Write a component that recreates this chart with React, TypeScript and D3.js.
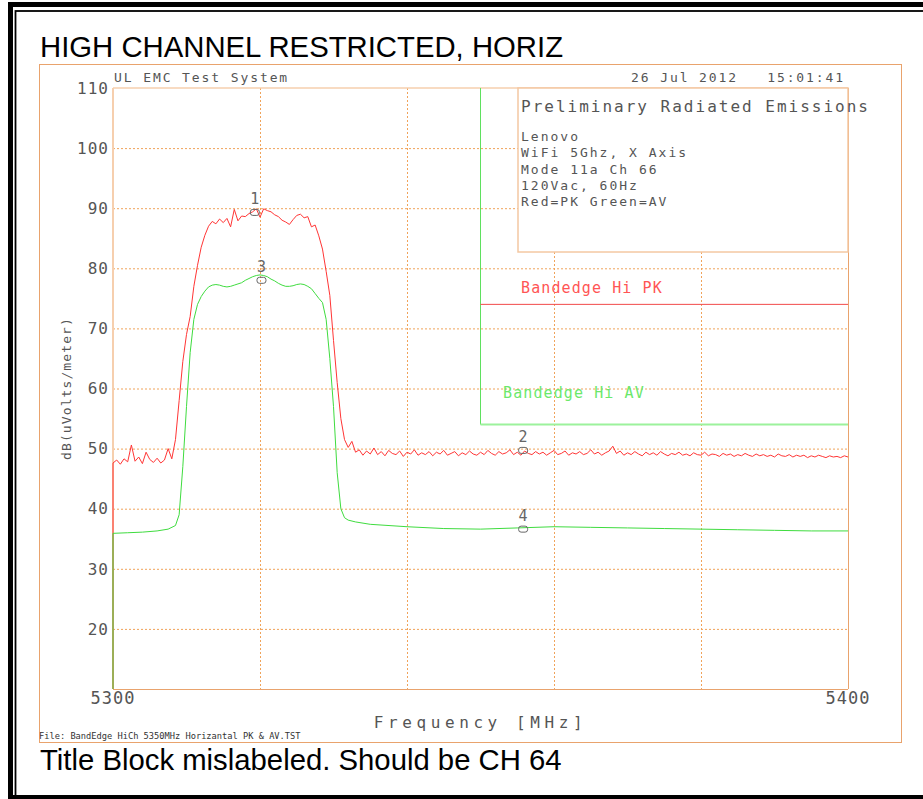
import * as d3 from "d3";

// Sweep settings (MHz)
const F_START = 5300;
const F_STOP = 5400;
const PK_STEP = 0.5;

// Red = peak detector, one reading every 0.5 MHz from 5300 MHz
const pkLevels = [
  47.6, 48.1, 47.4, 48.3, 47.8, 50.6, 47.9, 48.6, 47.5, 49.4,
  48.2, 47.7, 48.4, 47.6, 48.1, 50.0, 48.3, 51.5, 58.0, 64.5,
  69.0, 72.0, 77.0, 80.5, 83.5, 85.5, 87.0, 87.8, 87.4, 88.2,
  87.6, 88.3, 86.9, 89.8, 87.9, 88.7, 88.6, 89.1, 89.4, 89.9,
  88.5, 89.9, 89.6, 89.4, 88.9, 88.6, 88.0, 87.7, 87.3, 88.1,
  88.8, 89.0, 88.4, 88.6, 86.9, 87.2, 85.4, 83.2, 79.5, 75.5,
  68.0, 61.0, 55.0, 51.5, 50.2, 51.2, 49.4, 49.8, 48.9, 49.6,
  49.1, 50.1, 49.0, 49.5, 48.8, 49.7, 49.2, 49.0, 49.6, 48.7,
  49.4, 49.1, 49.8, 48.9, 49.3, 49.0, 49.5, 48.8, 49.4, 49.1,
  49.7, 48.9, 49.2, 49.5, 48.8, 49.3, 49.0, 49.6, 49.1, 48.9,
  49.4, 49.0, 49.7, 49.2, 48.9, 49.5, 49.1, 49.3, 49.8, 49.0,
  49.4, 48.9, 49.6, 49.2, 49.0, 49.5, 49.1, 49.4, 48.9, 49.3,
  49.7, 49.0, 49.2, 49.6, 48.9, 49.3, 49.1, 49.5, 49.0, 49.2,
  49.8, 49.1, 49.4, 48.9, 49.3, 49.6, 50.4, 49.2, 49.6, 48.9,
  49.3, 49.0, 49.5, 49.1, 48.8, 49.4, 49.0, 49.3, 48.9, 49.5,
  49.1, 48.8, 49.2, 49.0, 49.4, 48.9, 49.1, 48.8, 49.3, 49.0,
  48.9, 49.4, 48.8, 49.1, 49.0, 48.7, 49.2, 48.9, 49.1, 48.7,
  49.0, 48.8, 49.2, 48.9, 48.7, 49.1, 48.8, 49.0, 48.7, 48.9,
  48.6, 49.1, 48.8, 48.7, 49.0, 48.6, 48.9, 48.7, 48.9, 48.5,
  48.8, 48.6, 48.9, 48.7, 48.5, 48.8, 48.6, 48.7, 48.5, 48.8,
  48.6,
];

// Green = average detector
const avFreqs = [
  5300, 5302, 5304, 5306, 5307.5, 5308.5, 5309, 5309.5, 5310, 5310.5,
  5311, 5311.5, 5312, 5312.5, 5313, 5313.5, 5314, 5314.5, 5315, 5315.5,
  5316, 5316.5, 5317, 5317.5, 5318, 5318.5, 5319, 5319.5, 5320, 5320.5,
  5321, 5321.5, 5322, 5322.5, 5323, 5323.5, 5324, 5324.5, 5325, 5325.5,
  5326, 5326.5, 5327, 5327.5, 5328, 5328.5, 5329, 5329.5, 5330, 5330.5,
  5331, 5331.5, 5332, 5333, 5335, 5340, 5345, 5350, 5355, 5360,
  5365, 5370, 5375, 5380, 5385, 5390, 5395, 5400,
];
const avLevels = [
  35.9, 36.0, 36.1, 36.3, 36.6, 37.2, 39.0, 47.0, 57.0, 66.0,
  71.5, 74.0, 75.3, 76.2, 76.9, 77.2, 77.3, 77.2, 77.0, 76.9,
  77.0, 77.2, 77.4, 77.6, 78.0, 78.3, 78.6, 78.8, 78.9, 78.8,
  78.6, 78.2, 77.9, 77.5, 77.2, 77.0, 77.0, 77.1, 77.3, 77.4,
  77.3, 77.0, 76.6, 75.8, 75.0, 74.3, 71.5, 65.0, 57.0, 46.0,
  40.0, 38.5, 38.1, 37.8, 37.4, 37.0, 36.7, 36.6, 36.8, 37.0,
  36.9, 36.8, 36.7, 36.6, 36.5, 36.4, 36.3, 36.3,
];

// Markers
const markerIds = ["1", "2", "3", "4"];
const markerFreqs = [5319.3, 5355.8, 5320.2, 5355.8];
const markerLevels = [89.3, 49.7, 78.0, 36.6];

// Band edge limits
const edgeFreq = 5350;
const pkLimit = 74;
const avLimit = 54;

const yTicks = [20, 30, 40, 50, 60, 70, 80, 90, 100, 110];
const yGrid = [20, 30, 40, 50, 60, 70, 80, 90, 100];
const xGrid = [5320, 5340, 5360, 5380];
const xLabels = [5300, 5400];

const infoLines = [
  "Lenovo",
  "WiFi 5Ghz, X Axis",
  "Mode 11a Ch 66",
  "120Vac, 60Hz",
  "Red=PK Green=AV",
];

const MONO = "'DejaVu Sans Mono', monospace";
const ARIAL = "'Liberation Sans', Arial, sans-serif";
const ORANGE = "#e9a36d";
const GRID = "#f0a35a";
const LABEL = "#555";

export default function App() {
  const W = 923;
  const H = 799;
  const x = d3.scaleLinear().domain([F_START, F_STOP]).range([113, 848]);
  const y = d3.scaleLinear().domain([10, 110]).range([689, 88]);

  const line = d3
    .line<[number, number]>()
    .x((d) => x(d[0]))
    .y((d) => y(d[1]));

  const yMin = y.domain()[0];
  const pkPts: [number, number][] = [[F_START, yMin]].concat(
    pkLevels.map((v, i) => [F_START + i * PK_STEP, v])
  ) as [number, number][];
  const avPts: [number, number][] = [[F_START, yMin]].concat(
    avLevels.map((v, i) => [avFreqs[i], v])
  ) as [number, number][];

  // info box sits in the upper right of the plot
  const box = { x0: 518, y0: y(110), x1: x(F_STOP), y1: 252 };

  return (
    <svg
      width={W}
      height={H}
      style={{ position: "absolute", left: 0, top: 0, background: "#fff" }}
    >
      {/* document frame */}
      <rect x={10.5} y={4.5} width={W + 20} height={795 - 4.5 + 2.5} fill="none" stroke="#000" strokeWidth={5} />
      <rect x={15.5} y={11} width={W + 20} height={786} fill="none" stroke="#000" strokeWidth={1.8} />

      <text x={40} y={57} fontFamily={ARIAL} fontSize={29.3} fill="#000">
        HIGH CHANNEL RESTRICTED, HORIZ
      </text>
      <text x={40} y={770} fontFamily={ARIAL} fontSize={29.3} fill="#000">
        Title Block mislabeled. Should be CH 64
      </text>

      {/* plot sheet */}
      <rect x={39.5} y={64.5} width={862} height={678} fill="none" stroke={ORANGE} strokeWidth={1} />

      <text x={114} y={82} fontFamily={MONO} fontSize={13} letterSpacing={1.9} fill={LABEL}>
        UL EMC Test System
      </text>
      <text x={845} y={82} textAnchor="end" fontFamily={MONO} fontSize={13} letterSpacing={1.9} fill={LABEL}
        style={{ whiteSpace: "pre" }}>
        {"26 Jul 2012   15:01:41"}
      </text>

      {/* grid */}
      {yGrid.map((v) => (
        <line key={"gy" + v} x1={x(F_START)} x2={x(F_STOP)} y1={y(v) + 0.5} y2={y(v) + 0.5}
          stroke={GRID} strokeWidth={1} strokeDasharray="2,2" />
      ))}
      {xGrid.map((v) => (
        <line key={"gx" + v} x1={Math.round(x(v)) + 0.5} x2={Math.round(x(v)) + 0.5} y1={y(110)} y2={y(10)}
          stroke={GRID} strokeWidth={1} strokeDasharray="2,2" />
      ))}

      {/* plot borders */}
      <line x1={x(F_START)} x2={x(F_STOP)} y1={y(110)} y2={y(110)} stroke="#f6cfae" strokeWidth={1.5} />
      <line x1={x(F_START)} x2={x(F_STOP)} y1={y(10) + 0.5} y2={y(10) + 0.5} stroke={ORANGE} strokeWidth={1} />
      <line x1={x(F_STOP) + 0.5} x2={x(F_STOP) + 0.5} y1={y(110)} y2={y(10)} stroke={ORANGE} strokeWidth={1} />
      <line x1={x(F_START)} x2={x(F_START)} y1={y(110)} y2={y(10)} stroke="#f6cfae" strokeWidth={2} />

      {/* info box */}
      <rect x={box.x0} y={box.y0} width={box.x1 - box.x0} height={box.y1 - box.y0}
        fill="#fff" stroke="#f4c8a2" strokeWidth={1.5} />
      <text x={521} y={112} fontFamily={MONO} fontSize={16} letterSpacing={2} fill={LABEL}>
        Preliminary Radiated Emissions
      </text>
      {infoLines.map((t, i) => (
        <text key={t} x={521} y={141 + i * 16.3} fontFamily={MONO} fontSize={13} letterSpacing={2} fill={LABEL}>
          {t}
        </text>
      ))}

      {/* band edge limits */}
      <line x1={x(edgeFreq)} x2={x(edgeFreq)} y1={y(110)} y2={y(avLimit)} stroke="#5fe05f" strokeWidth={1} />
      <line x1={x(edgeFreq)} x2={x(F_STOP)} y1={y(pkLimit)} y2={y(pkLimit)} stroke="#f24a4a" strokeWidth={1} />
      <line x1={x(edgeFreq)} x2={x(F_STOP)} y1={y(avLimit)} y2={y(avLimit)} stroke="#9cf29c" strokeWidth={2} />
      <text x={521} y={y(pkLimit) - 11} fontFamily={MONO} fontSize={15} letterSpacing={1.1} fill="#ff5555">
        Bandedge Hi PK
      </text>
      <text x={503} y={y(avLimit) - 27} fontFamily={MONO} fontSize={15} letterSpacing={1.1} fill="#6be86b">
        Bandedge Hi AV
      </text>

      {/* traces */}
      <path d={line(pkPts) ?? ""} fill="none" stroke="#ff3535" strokeWidth={1} />
      <path d={line(avPts) ?? ""} fill="none" stroke="#3fdc3f" strokeWidth={1} />

      {/* markers */}
      {markerIds.map((id, i) => {
        const mx = x(markerFreqs[i]);
        const my = y(markerLevels[i]);
        return (
          <g key={id}>
            <rect x={mx - 4.5} y={my - 3} width={9} height={6} rx={2.5}
              fill="none" stroke="#666" strokeWidth={1} />
            <text x={mx} y={my - 8} textAnchor="middle" fontFamily={MONO} fontSize={15} fill="#666">
              {id}
            </text>
          </g>
        );
      })}

      {/* axes labels */}
      {yTicks.map((v) => (
        <text key={"ty" + v} x={109} y={y(v)} dy="0.36em" textAnchor="end"
          fontFamily={MONO} fontSize={16} letterSpacing={1} fill={LABEL}>
          {v}
        </text>
      ))}
      {xLabels.map((v) => (
        <text key={"tx" + v} x={x(v)} y={704} textAnchor="middle"
          fontFamily={MONO} fontSize={17} letterSpacing={1} fill={LABEL}>
          {v}
        </text>
      ))}
      <text x={(x(F_START) + x(F_STOP)) / 2} y={728} textAnchor="middle"
        fontFamily={MONO} fontSize={16} letterSpacing={4.6} fill={LABEL}>
        Frequency [MHz]
      </text>
      <text transform={`translate(71,${(y(10) + y(110)) / 2}) rotate(-90)`} textAnchor="middle"
        fontFamily={MONO} fontSize={13} letterSpacing={1.1} fill={LABEL}>
        dB(uVolts/meter)
      </text>

      <text x={39} y={739} fontFamily={MONO} fontSize={8.7} fill="#333">
        File: BandEdge HiCh 5350MHz Horizantal PK &amp; AV.TST
      </text>
    </svg>
  );
}
